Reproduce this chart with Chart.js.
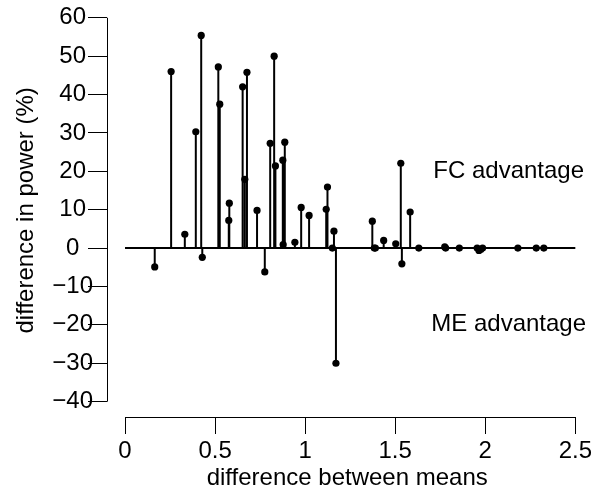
<!DOCTYPE html>
<html>
<head>
<meta charset="utf-8">
<script src="https://cdn.jsdelivr.net/npm/chart.js@4.4.0/dist/chart.umd.min.js"></script>
<style>
  html, body { margin: 0; padding: 0; background: #fff; }
  #wrap { width: 591px; height: 495px; }
</style>
</head>
<body>
<div id="wrap"><canvas id="c" width="591" height="495"></canvas></div>
<script>
// Difference between group means (x) against difference in power, % (y)
const meanDiff = [
  0.165, 0.256, 0.332, 0.393, 0.423, 0.429, 0.518, 0.526, 0.579, 0.576,
  0.653, 0.665, 0.677, 0.733, 0.776, 0.806, 0.828, 0.835, 0.876, 0.887,
  0.878, 0.943, 0.978, 1.022, 1.117, 1.124, 1.151, 1.160, 1.171, 1.373,
  1.384, 1.390, 1.436, 1.503, 1.531, 1.537, 1.583, 1.631, 1.775, 1.780,
  1.856, 1.955, 1.965, 1.975, 1.985, 2.181, 2.283, 2.325
];
const powerDiff = [
  -4.9, 46.0, 3.6, 30.3, 55.4, -2.4, 47.2, 37.5, 11.7, 7.2,
  42.0, 17.9, 45.8, 9.8, -6.2, 27.3, 50.0, 21.4, 22.9, 27.6,
  0.9, 1.5, 10.6, 8.5, 10.1, 15.9, 0.0, 4.4, -30.0, 7.0,
  0.0, 0.0, 2.0, 1.1, 22.1, -4.1, 9.4, 0.0, 0.3, 0.0,
  0.0, 0.0, -0.6, -0.4, 0.0, 0.0, 0.0, 0.0
];

const xTicks = [0, 0.5, 1, 1.5, 2, 2.5];
const xTickLabels = ['0', '0.5', '1', '1.5', '2', '2.5'];
const yTicks = [-40, -30, -20, -10, 0, 10, 20, 30, 40, 50, 60];
const yTickLabels = ['\u221240', '\u221230', '\u221220', '\u221210', '0', '10', '20', '30', '40', '50', '60'];

const regionLabels = ['FC advantage', 'ME advantage'];
const regionLabelX = [2.13, 2.13];
const regionLabelY = [20, -20];

const FONT = '"Liberation Sans", Arial, Helvetica, sans-serif';

// vertical stems from zero to each value, broken by null gaps
const stemPoints = [];
meanDiff.forEach((x, i) => {
  stemPoints.push({ x: x, y: 0 }, { x: x, y: powerDiff[i] }, { x: x, y: null });
});
const zeroLine = [{ x: xTicks[0], y: 0 }, { x: xTicks[xTicks.length - 1], y: 0 }];
const dots = meanDiff.map((x, i) => ({ x: x, y: powerDiff[i] }));

// axis lines that only span the first to the last tick
const rangeAxes = {
  id: 'rangeAxes',
  afterDraw(chart) {
    const { ctx, chartArea, scales } = chart;
    const xs = scales.x, ys = scales.y;
    ctx.save();
    ctx.strokeStyle = '#000';
    ctx.lineWidth = 1;
    ctx.beginPath();
    const ax = Math.round(chartArea.left) + 0.5;
    ctx.moveTo(ax, ys.getPixelForValue(yTicks[yTicks.length - 1]));
    ctx.lineTo(ax, ys.getPixelForValue(yTicks[0]));
    const ay = Math.round(chartArea.bottom) + 0.5;
    ctx.moveTo(xs.getPixelForValue(xTicks[0]), ay);
    ctx.lineTo(xs.getPixelForValue(xTicks[xTicks.length - 1]), ay);
    ctx.stroke();
    ctx.restore();
  }
};

// "FC advantage" / "ME advantage" notes placed in data units
const regionNotes = {
  id: 'regionNotes',
  afterDatasetsDraw(chart) {
    const { ctx, scales } = chart;
    ctx.save();
    ctx.fillStyle = '#000';
    ctx.font = '24px ' + FONT;
    ctx.textAlign = 'center';
    ctx.textBaseline = 'middle';
    regionLabels.forEach((t, i) => {
      ctx.fillText(t, scales.x.getPixelForValue(regionLabelX[i]), scales.y.getPixelForValue(regionLabelY[i]));
    });
    ctx.restore();
  }
};

new Chart(document.getElementById('c'), {
  type: 'scatter',
  data: {
    datasets: [
      {
        data: stemPoints, showLine: true, spanGaps: false,
        borderColor: '#000', borderWidth: 2, pointRadius: 0, pointHoverRadius: 0
      },
      {
        data: zeroLine, showLine: true,
        borderColor: '#000', borderWidth: 2, pointRadius: 0, pointHoverRadius: 0
      },
      {
        data: dots, showLine: false,
        backgroundColor: '#000', borderWidth: 0, pointRadius: 3.6, pointHoverRadius: 3.6
      }
    ]
  },
  options: {
    responsive: false,
    animation: false,
    devicePixelRatio: 1,
    layout: { padding: { top: 3.7, left: 0, right: 0, bottom: 0 } },
    plugins: { legend: { display: false }, tooltip: { enabled: false } },
    scales: {
      x: {
        type: 'linear', min: -0.1, max: 2.567,
        afterFit(s) { s.height = 78; s.paddingLeft = 0; s.paddingRight = 0; },
        afterBuildTicks(s) { s.ticks = xTicks.map(v => ({ value: v })); },
        border: { display: false },
        grid: { display: true, drawOnChartArea: false, drawTicks: true, tickLength: 17, color: '#000', lineWidth: 1 },
        ticks: {
          autoSkip: false, maxRotation: 0, minRotation: 0, padding: 3, color: '#000',
          font: { family: FONT, size: 24 },
          callback: (v, i) => xTickLabels[i]
        },
        title: {
          display: true, text: 'difference between means', color: '#000',
          font: { family: FONT, size: 24 }, padding: { top: 0, bottom: 2 }
        }
      },
      y: {
        type: 'linear', min: -44, max: 63.66,
        afterFit(s) { s.width = 107; s.paddingTop = 0; s.paddingBottom = 0; },
        afterBuildTicks(s) { s.ticks = yTicks.map(v => ({ value: v })); },
        border: { display: false },
        grid: { display: true, drawOnChartArea: false, drawTicks: true, tickLength: 19, color: '#000', lineWidth: 1 },
        ticks: {
          autoSkip: false, padding: -5, crossAlign: 'center', color: '#000',
          font: { family: FONT, size: 24 },
          callback: (v, i) => yTickLabels[i]
        },
        title: {
          display: true, text: 'difference in power (%)', color: '#000',
          font: { family: FONT, size: 24 }, padding: { top: 12, bottom: 0 }
        }
      }
    }
  },
  plugins: [rangeAxes, regionNotes]
});
</script>
</body>
</html>
